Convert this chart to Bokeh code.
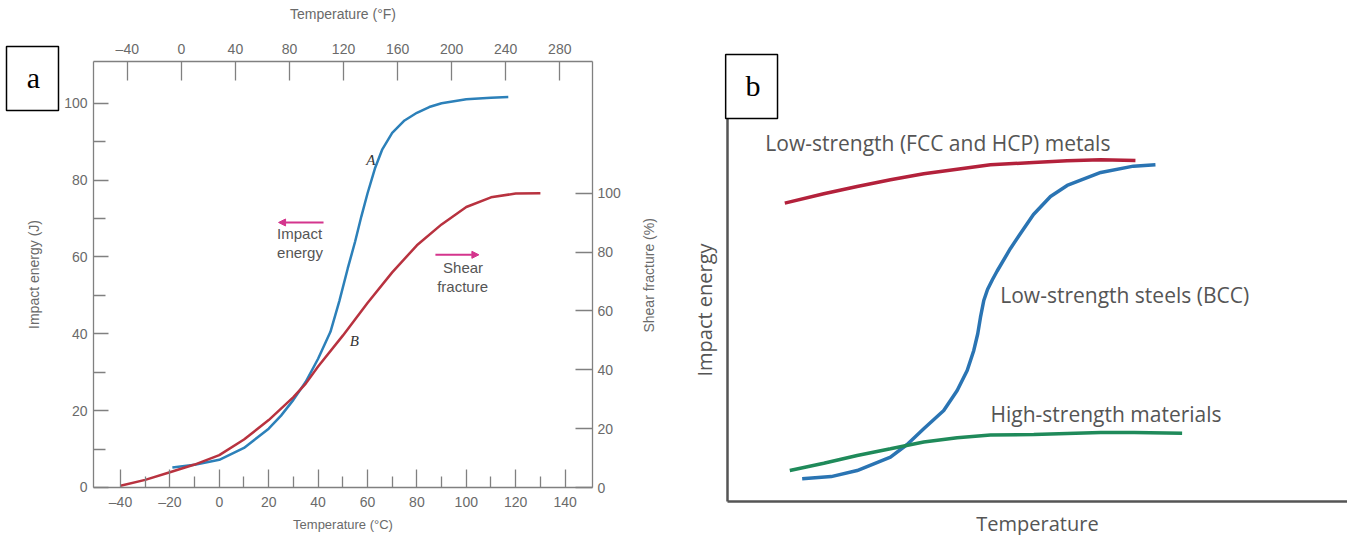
from math import pi
from bokeh.plotting import figure
from bokeh.models import Range1d, LinearAxis, FixedTicker, Label, BoxAnnotation, Arrow, NormalHead
from bokeh.layouts import row
from bokeh.embed import file_html
from bokeh.resources import INLINE

# ---------------- Panel (a) data ----------------
temp_A = [-19, -10, 0, 10, 20, 25, 30, 35, 40, 45, 48.6, 52, 55, 57.5, 60, 63, 66, 70, 75, 80, 85, 90, 100, 110, 117]
energy_A = [5.2, 5.9, 7.2, 10.3, 15.3, 18.7, 22.8, 27.5, 33.5, 40.5, 48.5, 57, 64, 70.5, 76.5, 83, 88, 92.3,
            95.5, 97.5, 99, 100, 101, 101.4, 101.6]
temp_B = [-40, -30, -20, -10, 0, 10, 20, 30, 35, 40, 50, 60, 70, 80, 90, 100, 110, 120, 130]
shear_B = [0.6, 2.6, 5.2, 7.8, 11, 16.3, 22.9, 30.7, 35.3, 41.1, 51.6, 62.7, 73.1, 82.3, 89.4, 95.3, 98.6, 99.9, 100]

c_ticks = [-40, -20, 0, 20, 40, 60, 80, 100, 120, 140]
c_minor = [-30, -10, 10, 30, 50, 70, 90, 110, 130]
f_ticks = [-40, 0, 40, 80, 120, 160, 200, 240, 280]
e_ticks = [0, 20, 40, 60, 80, 100]
e_minor = [10, 30, 50, 70, 90]
s_ticks = [0, 20, 40, 60, 80, 100]

# ---------------- Panel (b) data (schematic, arbitrary units) ----------------
fcc_x = [0.939, 1.578, 2.125, 2.671, 3.216, 3.764, 4.309, 5.014, 5.566, 6.117, 6.685]
fcc_y = [7.789, 8.034, 8.225, 8.400, 8.556, 8.677, 8.791, 8.851, 8.896, 8.922, 8.903]
bcc_x = [1.224, 1.70, 2.125, 2.671, 2.944, 3.216, 3.544, 3.764, 3.928, 4.036, 4.101, 4.146, 4.200, 4.261,
         4.343, 4.419, 4.637, 4.801, 5.014, 5.293, 5.566, 6.117, 6.652, 7.013]
bcc_y = [0.593, 0.650, 0.809, 1.157, 1.488, 1.898, 2.376, 2.898, 3.420, 3.943, 4.379, 4.812, 5.248, 5.535,
         5.796, 6.018, 6.606, 6.997, 7.493, 7.963, 8.251, 8.590, 8.755, 8.791]
hs_x = [1.021, 1.578, 2.125, 2.671, 3.216, 3.764, 4.309, 5.019, 5.566, 6.117, 6.663, 7.450]
hs_y = [0.809, 0.999, 1.201, 1.376, 1.554, 1.666, 1.736, 1.749, 1.775, 1.802, 1.802, 1.784]

FONT = "Liberation Sans"
GRAY = "#6a6a6a"
AXC = "#808080"
MAG = "#d4358d"


def style_axis(ax, tick_in, minor_in=0, title=None, lab_standoff=5, title_standoff=10, title_size="14px"):
    ax.axis_line_color = AXC
    ax.axis_line_width = 1.3
    ax.major_tick_in = tick_in
    ax.major_tick_out = 0
    ax.minor_tick_in = minor_in
    ax.minor_tick_out = 0
    ax.major_tick_line_color = AXC
    ax.major_tick_line_width = 1.3
    ax.minor_tick_line_color = AXC if minor_in else None
    ax.minor_tick_line_width = 1.3
    ax.major_label_text_font = FONT
    ax.major_label_text_font_size = "14px"
    ax.major_label_text_color = GRAY
    ax.major_label_standoff = lab_standoff
    if title:
        ax.axis_label = title
        ax.axis_label_text_font = FONT
        ax.axis_label_text_font_size = title_size
        ax.axis_label_text_font_style = "normal"
        ax.axis_label_text_color = GRAY
        ax.axis_label_standoff = title_standoff


def bare_figure(width, xr, yr):
    f = figure(width=width, height=535, x_range=xr, y_range=yr, title=None,
               x_axis_type=None, y_axis_type=None, output_backend="svg", toolbar_location=None,
               min_border=0, min_border_left=0, min_border_right=0, min_border_top=0, min_border_bottom=0)
    f.outline_line_color = None
    f.grid.visible = False
    f.background_fill_color = "white"
    f.border_fill_color = "white"
    return f


# Panel (a): plot box spans -50.9..151.1 degC and 0..110.85 J
X0, X1, Y0, Y1 = -50.9, 151.1, 0.0, 110.85
fa = bare_figure(690, Range1d(-88.58, 190.77), Range1d(-12.49, 126.72))
fa.extra_x_ranges = {"F": Range1d(-133.8, 376.7)}
fa.extra_y_ranges = {"S": Range1d(-16.31, 165.48)}

ax_b = LinearAxis(ticker=FixedTicker(ticks=c_ticks, minor_ticks=c_minor), fixed_location=Y0, bounds=(X0, X1))
style_axis(ax_b, 18, 11, "Temperature (\u00b0C)", 7, 3, "13px")
ax_b.major_label_overrides = {-40: "\u201340", -20: "\u201320"}
fa.add_layout(ax_b, "below")

ax_t = LinearAxis(x_range_name="F", ticker=FixedTicker(ticks=f_ticks), fixed_location=Y1, bounds=(-64.9, 304.4))
style_axis(ax_t, 19, 0, "Temperature (\u00b0F)", 4, 17)
ax_t.major_label_overrides = {-40: "\u201340"}
fa.add_layout(ax_t, "above")

ax_l = LinearAxis(ticker=FixedTicker(ticks=e_ticks, minor_ticks=e_minor), fixed_location=X0, bounds=(Y0, Y1))
style_axis(ax_l, 15, 12, "Impact energy (J)", 6, 19)
fa.add_layout(ax_l, "left")

ax_r = LinearAxis(y_range_name="S", ticker=FixedTicker(ticks=s_ticks), fixed_location=X1, bounds=(0, 144.75))
style_axis(ax_r, 17, 0, None, 5)
fa.add_layout(ax_r, "right")
fa.add_layout(Label(x=174.0, y=55.2, text="Shear fracture (%)", angle=pi / 2, text_font=FONT,
                    text_font_size="14px", text_color=GRAY, text_align="center", text_baseline="middle"))

fa.line(temp_A, energy_A, line_color="#2c80b9", line_width=2.5)
fa.line(temp_B, shear_B, y_range_name="S", line_color="#b8323f", line_width=2.5)

for txt, x, y in [("A", 61.3, 85.3), ("B", 54.7, 38.1)]:
    fa.add_layout(Label(x=x, y=y, text=txt, text_font="Liberation Serif", text_font_style="italic",
                        text_font_size="15px", text_color="#333333", text_align="center",
                        text_baseline="middle"))

fa.add_layout(Arrow(x_start=42.2, y_start=68.96, x_end=24.0, y_end=68.96, line_color=MAG, line_width=2,
                    end=NormalHead(size=7, fill_color=MAG, line_color=MAG)))
fa.add_layout(Arrow(x_start=87.5, y_start=60.55, x_end=105.1, y_end=60.55, line_color=MAG, line_width=2,
                    end=NormalHead(size=7, fill_color=MAG, line_color=MAG)))
for txt, x, y, al in [("Impact", 23.4, 66.0, "left"), ("energy", 23.4, 61.2, "left"),
                      ("Shear", 98.7, 57.2, "center"), ("fracture", 98.5, 52.3, "center")]:
    fa.add_layout(Label(x=x, y=y, text=txt, text_font=FONT, text_font_size="15px",
                        text_color="#555555", text_align=al, text_baseline="middle"))

fa.add_layout(BoxAnnotation(left=-86.15, right=-65.1, bottom=98.1, top=114.75, fill_color="white",
                            fill_alpha=1, line_color="black", line_alpha=1, line_width=1.5))
fa.add_layout(Label(x=-75.3, y=106.6, text="a", text_font="Liberation Serif", text_font_size="30px",
                    text_color="black", text_align="center", text_baseline="middle"))

# ---------------- Panel (b) ----------------
BC = "#555555"
fb = bare_figure(657, Range1d(-0.606, 10.16), Range1d(-0.888, 13.08))

for loc, title, st, fl, bd in [("left", "Impact energy", 10, 0, (0, 10)),
                               ("below", "Temperature", 8, 0, (0, 10.16))]:
    ax = LinearAxis(ticker=FixedTicker(ticks=[]), fixed_location=fl, bounds=bd)
    ax.axis_line_color = BC
    ax.axis_line_width = 2.5
    ax.major_tick_line_color = None
    ax.minor_tick_line_color = None
    ax.major_tick_out = 0
    ax.major_label_text_font_size = "0px"
    ax.major_label_standoff = 0
    ax.axis_label = title
    ax.axis_label_text_font = "Open Sans"
    ax.axis_label_text_font_size = "20px"
    ax.axis_label_text_font_style = "normal"
    ax.axis_label_text_color = BC
    ax.axis_label_standoff = st
    fb.add_layout(ax, loc)

fb.line(fcc_x, fcc_y, line_color="#b3213b", line_width=3.5)
fb.line(bcc_x, bcc_y, line_color="#2a74b3", line_width=3.5)
fb.line(hs_x, hs_y, line_color="#1f8a5a", line_width=3.5)

for txt, x, y in [("Low-strength (FCC and HCP) metals", 0.62, 9.35),
                  ("Low-strength steels (BCC)", 4.47, 5.40),
                  ("High-strength materials", 4.31, 2.29)]:
    fb.add_layout(Label(x=x, y=y, text=txt, text_font="Open Sans", text_font_size="21px",
                        text_color=BC, text_align="left", text_baseline="middle"))

fb.add_layout(BoxAnnotation(left=-0.03, right=0.82, bottom=10.0, top=11.67, fill_color="white",
                            fill_alpha=1, line_color="black", line_alpha=1, line_width=1.5))
fb.add_layout(Label(x=0.42, y=10.86, text="b", text_font="Liberation Serif", text_font_size="30px",
                    text_color="black", text_align="center", text_baseline="middle"))

p = row(fa, fb)
open("out.html", "w").write(file_html(p, INLINE))
